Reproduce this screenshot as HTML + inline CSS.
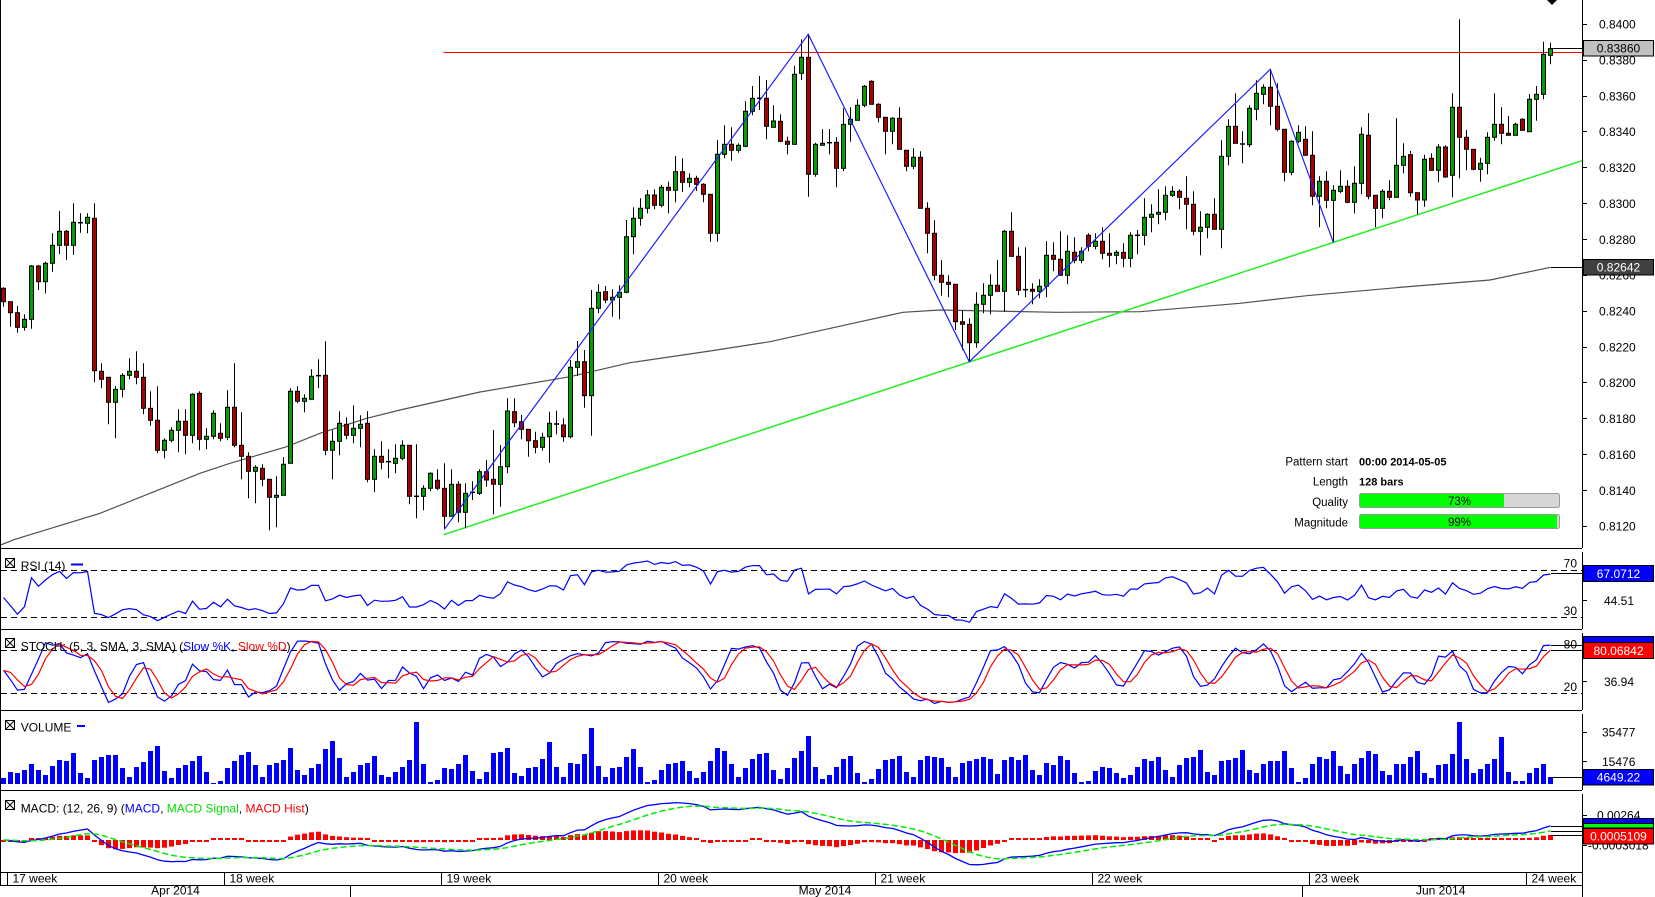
<!DOCTYPE html>
<html><head><meta charset="utf-8">
<style>
html,body{margin:0;padding:0;background:#fff;}
svg{display:block;font-family:"Liberation Sans",Arial,sans-serif;}
</style></head><body>
<svg width="1655" height="897" viewBox="0 0 1655 897" xmlns="http://www.w3.org/2000/svg">
<defs>
<clipPath id="cP"><rect x="1" y="0" width="1581" height="548"/></clipPath>
<clipPath id="cR"><rect x="1" y="552" width="1581" height="77"/></clipPath>
<clipPath id="cS"><rect x="1" y="633" width="1581" height="77"/></clipPath>
<clipPath id="cM"><rect x="1" y="794" width="1581" height="78"/></clipPath>
</defs>
<rect width="1655" height="897" fill="#fff"/>

<g stroke="#000" stroke-width="1" fill="none">
<line x1="0.5" y1="0" x2="0.5" y2="885"/>
<line x1="1582.5" y1="0" x2="1582.5" y2="548"/>
<line x1="1582.5" y1="552" x2="1582.5" y2="629"/>
<line x1="1582.5" y1="633" x2="1582.5" y2="710"/>
<line x1="1582.5" y1="714" x2="1582.5" y2="790"/>
<line x1="1582.5" y1="794" x2="1582.5" y2="897"/>
<line x1="0" y1="548.5" x2="1582" y2="548.5"/>
<line x1="0" y1="629.5" x2="1582" y2="629.5"/>
<line x1="0" y1="710.5" x2="1582" y2="710.5"/>
<line x1="0" y1="790.5" x2="1582" y2="790.5"/>
<line x1="0" y1="872.5" x2="1582" y2="872.5"/>
<line x1="0" y1="885.5" x2="1582" y2="885.5"/>
<line x1="7.5" y1="872" x2="7.5" y2="885"/>
<line x1="224.5" y1="872" x2="224.5" y2="885"/>
<line x1="441.5" y1="872" x2="441.5" y2="885"/>
<line x1="658.5" y1="872" x2="658.5" y2="885"/>
<line x1="875.5" y1="872" x2="875.5" y2="885"/>
<line x1="1092.5" y1="872" x2="1092.5" y2="885"/>
<line x1="1309.5" y1="872" x2="1309.5" y2="885"/>
<line x1="1526.5" y1="872" x2="1526.5" y2="885"/>
<line x1="350.5" y1="885" x2="350.5" y2="897"/>
<line x1="1302.5" y1="885" x2="1302.5" y2="897"/>
<line x1="1582" y1="24.5" x2="1587" y2="24.5"/>
<line x1="1582" y1="60.5" x2="1587" y2="60.5"/>
<line x1="1582" y1="96.5" x2="1587" y2="96.5"/>
<line x1="1582" y1="131.5" x2="1587" y2="131.5"/>
<line x1="1582" y1="167.5" x2="1587" y2="167.5"/>
<line x1="1582" y1="203.5" x2="1587" y2="203.5"/>
<line x1="1582" y1="239.5" x2="1587" y2="239.5"/>
<line x1="1582" y1="275.5" x2="1587" y2="275.5"/>
<line x1="1582" y1="311.5" x2="1587" y2="311.5"/>
<line x1="1582" y1="347.5" x2="1587" y2="347.5"/>
<line x1="1582" y1="382.5" x2="1587" y2="382.5"/>
<line x1="1582" y1="418.5" x2="1587" y2="418.5"/>
<line x1="1582" y1="454.5" x2="1587" y2="454.5"/>
<line x1="1582" y1="490.5" x2="1587" y2="490.5"/>
<line x1="1582" y1="526.5" x2="1587" y2="526.5"/>
<line x1="1582" y1="600.5" x2="1587" y2="600.5"/>
<line x1="1582" y1="681.5" x2="1587" y2="681.5"/>
<line x1="1582" y1="732.5" x2="1587" y2="732.5"/>
<line x1="1582" y1="761.5" x2="1587" y2="761.5"/>
<line x1="1582" y1="815.5" x2="1587" y2="815.5"/>
<line x1="1582" y1="845.5" x2="1587" y2="845.5"/>
</g>

<g stroke="#000" stroke-width="1" stroke-dasharray="6,4">
<line x1="1" y1="570.5" x2="1582" y2="570.5"/>
<line x1="1" y1="617.5" x2="1582" y2="617.5"/>
<line x1="1" y1="650.5" x2="1582" y2="650.5"/>
<line x1="1" y1="693.5" x2="1582" y2="693.5"/>
</g>

<g clip-path="url(#cP)">
<polyline fill="none" stroke="#505050" stroke-width="1.2" points="0.5,545 15,539.3 100,513.3 150,493.3 200,473.3 230,463.3 286.7,446.7 320,433.3 366.7,418.3 400,410 480,392 570,376.7 630,362.7 710,351 770,341.7 853,323.3 903,312.3 940,310 1056.7,312.3 1140,311.7 1240,303.3 1306.7,295.7 1410,286.5 1490,280 1550.5,267.3"/>
<line x1="443.6" y1="52.5" x2="1582" y2="52.5" stroke="#ff0000" stroke-width="1"/>
<line x1="443.6" y1="534.7" x2="1582" y2="160.7" stroke="#22ee22" stroke-width="1.5"/>
</g>

<g id="dyn"></g>

<g clip-path="url(#cP)">
<polyline fill="none" stroke="#2020ff" stroke-width="1.2" points="444.3,529.3 808.3,34.3 969.3,361.7 1270.3,69.3 1333.3,242.3"/>
</g>

<polygon points="1547,0 1557,0 1552,5" fill="#000"/>

<g stroke="#000" stroke-width="1">
<line x1="1551" y1="48.5" x2="1583" y2="48.5"/>
<line x1="1551" y1="267.5" x2="1583" y2="267.5"/>
<line x1="1551" y1="573.5" x2="1583" y2="573.5"/>
<line x1="1551" y1="645.5" x2="1583" y2="645.5"/>
<line x1="1551" y1="650.5" x2="1583" y2="650.5"/>
<line x1="1551" y1="777.5" x2="1583" y2="777.5"/>
<line x1="1551" y1="826.5" x2="1583" y2="826.5"/>
<line x1="1551" y1="831.5" x2="1583" y2="831.5"/>
<line x1="1551" y1="835.5" x2="1583" y2="835.5"/>
</g>

<g font-size="12" fill="#000">
<text x="1599" y="28.6">0.8400</text>
<text x="1599" y="64.5">0.8380</text>
<text x="1599" y="100.3">0.8360</text>
<text x="1599" y="136.2">0.8340</text>
<text x="1599" y="172">0.8320</text>
<text x="1599" y="207.9">0.8300</text>
<text x="1599" y="243.8">0.8280</text>
<text x="1599" y="279.6">0.8260</text>
<text x="1599" y="315.5">0.8240</text>
<text x="1599" y="351.3">0.8220</text>
<text x="1599" y="387.2">0.8200</text>
<text x="1599" y="423.1">0.8180</text>
<text x="1599" y="458.9">0.8160</text>
<text x="1599" y="494.8">0.8140</text>
<text x="1599" y="530.6">0.8120</text>
<text x="1604" y="605">44.51</text>
<text x="1604" y="686">36.94</text>
<text x="1602" y="736.5">35477</text>
<text x="1602" y="766">15476</text>
<text x="1597" y="819.5">0.00264</text>
<text x="1588" y="849.5">-0.0003018</text>
<text x="1577" y="567.5" text-anchor="end">70</text>
<text x="1577" y="615" text-anchor="end">30</text>
<text x="1577" y="648.5" text-anchor="end">80</text>
<text x="1577" y="691" text-anchor="end">20</text>
<text x="12.5" y="882.7">17 week</text>
<text x="229.5" y="882.7">18 week</text>
<text x="446.5" y="882.7">19 week</text>
<text x="663.5" y="882.7">20 week</text>
<text x="880.5" y="882.7">21 week</text>
<text x="1097.5" y="882.7">22 week</text>
<text x="1314.5" y="882.7">23 week</text>
<text x="1531.5" y="882.7">24 week</text>
<text x="175.5" y="894.5" text-anchor="middle">Apr 2014</text>
<text x="825" y="894.5" text-anchor="middle">May 2014</text>
<text x="1440.7" y="894.5" text-anchor="middle">Jun 2014</text>
</g>

<g stroke="#000" stroke-width="1" font-size="12">
<rect x="1583.5" y="40.5" width="70" height="15.5" fill="#c0c0c0"/>
<rect x="1583.5" y="259.5" width="70" height="15.5" fill="#404040"/>
<rect x="1583.5" y="565.5" width="70" height="16" fill="#0000ff"/>
<rect x="1583.5" y="636.5" width="70" height="6" fill="#0000ff"/>
<rect x="1583.5" y="642.5" width="70" height="16" fill="#ff0000"/>
<rect x="1583.5" y="769.5" width="70" height="15.5" fill="#0000ff"/>
<rect x="1583.5" y="818.5" width="70" height="5" fill="#0000ff"/>
<rect x="1583.5" y="823.5" width="70" height="4.5" fill="#00ff00"/>
<rect x="1583.5" y="828.5" width="70" height="15.5" fill="#ff0000"/>
</g>
<g font-size="12" text-anchor="middle">
<text x="1618.5" y="52.6" fill="#000">0.83860</text>
<text x="1618.5" y="271.7" fill="#fff">0.82642</text>
<text x="1618.5" y="577.8" fill="#fff">67.0712</text>
<text x="1618.5" y="654.8" fill="#fff">80.06842</text>
<text x="1618.5" y="781.5" fill="#fff">4649.22</text>
<text x="1618.5" y="840.5" fill="#fff">0.0005109</text>
</g>

<g stroke="#000" stroke-width="1" fill="#fff">
<rect x="5.5" y="558.5" width="9" height="9"/>
<path d="M5.5 558.5 L14.5 567.5 M14.5 558.5 L5.5 567.5" fill="none"/>
<rect x="5.5" y="638.5" width="9" height="9"/>
<path d="M5.5 638.5 L14.5 647.5 M14.5 638.5 L5.5 647.5" fill="none"/>
<rect x="5.5" y="720.5" width="9" height="9"/>
<path d="M5.5 720.5 L14.5 729.5 M14.5 720.5 L5.5 729.5" fill="none"/>
<rect x="5.5" y="800.5" width="9" height="9"/>
<path d="M5.5 800.5 L14.5 809.5 M14.5 800.5 L5.5 809.5" fill="none"/>
</g>
<rect x="71" y="563.5" width="12" height="2" fill="#0000ff"/>
<rect x="77" y="725" width="8" height="2" fill="#0000ff"/>
<g font-size="12" fill="#000">
<text x="20.7" y="570">RSI (14)</text>
<text x="20.7" y="650.7">STOCH: (5, 3, SMA, 3, SMA) (<tspan fill="#0000ff">Slow %K</tspan>, <tspan fill="#ff0000">Slow %D</tspan>)</text>
<text x="20.7" y="731.7">VOLUME</text>
<text x="20.7" y="812.3">MACD: (12, 26, 9) (<tspan fill="#0000ff">MACD</tspan>, <tspan fill="#00dd00">MACD Signal</tspan>, <tspan fill="#ff0000">MACD Hist</tspan>)</text>
</g>

<g font-size="11.5" fill="#000">
<text x="1348" y="465.7" text-anchor="end">Pattern start</text>
<text x="1348" y="485.7" text-anchor="end">Length</text>
<text x="1348" y="506" text-anchor="end">Quality</text>
<text x="1348" y="526.7" text-anchor="end">Magnitude</text>
<text x="1359" y="465.7" font-weight="bold" font-size="11">00:00 2014-05-05</text>
<text x="1359" y="485.7" font-weight="bold" font-size="11">128 bars</text>
</g>
<rect x="1359.5" y="493.5" width="200" height="14" rx="2" fill="#d6d6d6" stroke="#9a9a9a"/>
<rect x="1360" y="494" width="144" height="13" fill="#00ff00"/>
<rect x="1359.5" y="514.5" width="200" height="14" rx="2" fill="#d6d6d6" stroke="#9a9a9a"/>
<rect x="1360" y="515" width="197" height="13" fill="#00ff00"/>
<g font-size="11.5" fill="#000" text-anchor="middle">
<text x="1459.5" y="505">73%</text>
<text x="1459.5" y="526">99%</text>
</g>
</svg>
<script>
(function(){
var D=[[288.3,287.3,306.7,301.7],[301.7,301.7,326.7,312.7],[312.7,306,332.7,327.3],[327.3,314.3,330.7,319.3],[319.3,265,328.7,266],[266,265,290,281.7],[281.7,261.7,293.3,263.3],[263.3,233.3,271.7,245.3],[245.3,211,254,231.3],[231.3,230,260,245.3],
[245.3,203.3,255,222.3],[222.7,213.3,232.7,222.7],[223.3,213.3,233.3,217.3],[218.3,203.3,382.3,370.7],[371.3,363.3,388.3,379.3],[377.3,377.3,424.3,402.3],[402.3,386,438.3,389.3],[389.3,373.3,397.3,375.3],[375.3,358.3,379.3,371.3],[371.3,351.3,384.3,377.3],
[377.3,363.3,414.3,408.3],[408.3,391.3,425.7,420.3],[420.3,386.3,453.3,450.3],[450.3,438.3,458.3,440.3],[440.3,427.3,442.3,430.3],[430.3,409.3,452.3,421.3],[421.3,409.3,454.3,435.3],[435.3,393.3,443.3,394.3],[393.3,391.3,450.3,439.3],[439.3,428.3,449.3,436.3],
[436.3,410.3,439.3,413.3],[433.3,423.3,441.3,438.3],[437.3,390.3,440.3,407.3],[407.3,363.3,447.3,445.3],[445.3,412.3,479.3,456.3],[456.3,452.3,498.3,471.3],[471.3,465.3,503.3,467.3],[468.3,464.3,486.3,479.3],[479.3,479.3,530.3,497.3],[497.3,476.3,527.3,495.3],
[495.3,457.3,495.3,464.3],[463.3,388.3,463.3,391.3],[391.3,386.3,403.3,401.3],[401.3,394.3,412.3,398.3],[399.3,369.3,399.3,376.3],[375.7,359.3,388.3,375.7],[375.3,341.3,455.3,450.3],[450.3,430.3,479.3,441.3],[441.3,411.3,455.3,423.3],[424.3,417.3,439.3,435.3],
[435.3,405.3,443.3,428.3],[428.3,415.3,447.3,424.3],[423.3,411.3,482.3,479.3],[479.3,449.3,492.3,456.3],[456.3,441.3,469.3,462.3],[461.7,449.3,478.3,461.7],[463.3,444.3,473.3,458.3],[458.3,440.3,460.3,445.3],[445.3,445.3,504.3,496.3],[496.3,444.3,518.3,496.3],
[496.3,485.3,510.3,488.3],[488.3,472.3,491.3,473.3],[480.3,469.3,490.3,488.3],[488.3,463.3,529.3,516.3],[516.3,469.3,516.3,484.3],[484.3,481.3,522.3,512.3],[512.3,483.3,528.3,493.3],[493.3,481.3,500,492.3],[493.3,469.3,495,471.7],[471.7,460,486.7,480],
[479.3,430,514.3,484.3],[484.3,445,506.7,466.7],[466.7,398.3,473.3,411],[411.7,398.3,427.3,422.7],[421.7,415,439.3,429.3],[429.3,429.3,456.7,440.7],[440.7,431.7,453.3,447.3],[447.3,432.7,450.7,437.3],[436.7,411.7,462.7,423.3],[424,410.7,434.3,424],
[425,418.3,441.7,436.7],[436.7,360,438.3,367.3],[367.3,341,376,361.7],[361.7,350,407.7,395.7],[395.7,290,435.7,308.3],[308.3,284.3,313.3,292.3],[291.7,286,303.3,300],[300,289.3,316.7,297.3],[297.3,285.3,319.3,292.3],[292.3,220,293.3,236.7],
[236.7,207.3,254.3,218.3],[218.3,198.3,225.7,208.3],[208.3,190,213.3,195],[195,189.3,209.3,205.3],[205.3,185,207.3,187.3],[187.3,181.7,213.3,190.3],[190.3,156,202.3,171.7],[171.7,158.3,192,182.3],[182.3,173.3,187.3,178.3],[178.3,175.7,191,184.3],
[184.3,183.3,202.3,194.3],[194.3,194.3,241.7,233.3],[233.3,140,241.7,154.3],[154.3,125.3,158.3,144.3],[144.3,127.3,160.7,150.3],[150.3,143.3,152.7,145.3],[146.3,101.3,147.3,111.3],[111.3,86,115.3,98.3],[98.3,76,110,98.3],[98.3,80,139.3,126.3],
[127.3,105.3,127.3,121],[121.3,114.3,142.3,141.3],[141.3,136.7,154.3,144.3],[144.3,65.7,144.3,74.3],[73.3,39.3,80,57.3],[57.3,34,196.7,174.3],[174.3,142.7,176.7,144.3],[145.3,129.3,145.3,143.3],[142.7,129,154.3,142.7],[142.3,137.3,187.3,168.3],
[168.3,108.3,171.3,124.3],[124.3,107.3,141.7,119.3],[120.3,99.3,120.3,105.3],[105.3,85,107.3,86.3],[81.3,80.3,104.3,104.3],[104.3,103.3,122.3,117.3],[117.3,117.3,154.3,131.3],[131.3,117.3,144.3,118.3],[118.3,107.3,149.3,149.3],[150.3,150.3,171.3,166.3],
[166.3,148.3,169.3,157.3],[157.3,151.3,208.3,208.3],[208.3,202.3,253.3,233.3],[233.3,220.3,280.3,275.3],[275.3,260,295.7,282.3],[282.3,275.3,297.3,284.3],[284.3,284,330,321.7],[321.7,310.7,350,324.3],[324.3,318.3,361.7,342.7],[342.7,292.3,347.7,304.3],
[304.3,283.3,313.3,295.3],[295.3,274.3,314.3,285.3],[285.3,260,291.3,291.3],[291.3,230,311.7,231.3],[231.3,212.3,256.3,256.3],[256.3,247.3,295.3,290.3],[289.7,247.3,297.3,289.7],[289.3,283.3,304.3,291.3],[291.3,279.3,298.3,286.3],[286.3,241.3,297.3,255.3],
[255.3,242.3,271.3,259.3],[259.3,231.3,275.3,275.3],[275.3,235.3,284.3,251.3],[252.3,237.3,263.3,260.3],[260.3,247.3,263.3,251.3],[235.3,233.3,251.3,246.3],[246.3,233.3,249.3,241.3],[241.3,227.3,259.3,253.3],[253.3,233.3,267.3,255.3],[255.3,250.3,264.3,252.3],
[252.3,243.3,267.3,258.3],[258.3,232.3,267.3,235.3],[235.3,230,254.3,235.3],[235.3,198.3,245.3,217.3],[217.3,204.3,232.3,214.3],[214.3,189.3,224.3,212.3],[212.3,186.3,220.3,195.3],[195.3,186.3,197,191.3],[191.3,189.3,209.3,197.3],[198.3,176.3,229.3,204.3],
[204.3,191.3,235.3,231.3],[231.3,211.3,255.3,227.3],[227.3,213.3,238.3,214.3],[214.3,198.3,229.3,229.3],[229.3,140.3,248.3,156.3],[156.3,119.3,165.3,126.3],[126.3,93.3,143.3,143.3],[144,131.3,163.3,144],[144.7,105.3,147.3,108.3],[109.3,80.3,120.3,93.3],
[94.3,84.3,104.3,87.3],[87.3,69.3,125.3,106.3],[106.3,83.3,131.3,129.3],[129.3,129.3,181.3,172.3],[172.3,140.3,175.3,141.3],[141.3,125.3,143.3,132.3],[139.3,126.3,155.3,155.3],[155.3,131.3,205.3,196.3],[196.3,176.3,227.3,181.3],[181.3,171.3,208.3,200.3],
[200.3,185.3,242.3,190.3],[191.3,170.3,193.3,186.3],[186.3,180.3,203.3,202.3],[202.3,166.3,213.3,183.3],[183.3,127.3,194.3,134.3],[135.3,113.3,199.3,196.3],[195.3,195.3,227.3,208.3],[208.3,189.3,218.3,191.3],[191.3,180.3,200.3,197.3],[197.3,118.3,197.3,165.3],
[165.3,143.3,173.3,156.3],[154.7,151,196.7,192.7],[192.7,192.7,214.3,200],[200,154.7,206.7,159.3],[158.3,153.3,170.3,170.3],[170.3,144.3,182.3,147],[147,145.3,177.7,177],[175.3,93.3,197.3,107.3],[107.3,19.3,178.3,137.3],[137.3,130,170.3,149.3],
[149.3,149.3,170.3,169.3],[169.3,157.7,181.7,163.3],[163.3,132.3,174.3,137.3],[137.3,93.3,140.7,124.3],[124.3,107.3,144.3,133.3],[133.3,116,135.3,135.3],[135.3,122.7,135.3,124.3],[119.3,118.3,130.3,130.3],[131.7,94.3,131.7,99.3],[99.3,86,120.7,94.3],
[94.3,41.7,99.3,54.3],[55.3,42.7,64.3,48.7]];
var V=[6,12,11,14,20,14,9,18,24,23,31,11,6,24,27,29,29,16,7,17,22,33,38,13,6,16,19,23,28,12,1,3,16,23,29,32,19,7,19,21,24,36,14,9,16,20,35,43,26,7,12,19,21,28,9,7,12,17,24,62,20,2,4,16,15,20,29,13,5,12,31,32,36,11,8,16,17,25,42,17,7,21,20,30,56,18,7,16,17,27,35,17,2,4,14,20,21,23,13,6,12,23,36,33,20,7,16,25,30,31,14,5,16,26,33,48,17,5,9,17,25,28,11,2,5,15,24,25,28,12,7,24,28,27,26,17,7,21,23,25,27,25,10,24,27,24,29,14,9,21,19,28,24,11,2,3,13,17,16,11,6,9,17,25,23,27,14,7,19,26,27,34,12,9,23,24,26,34,14,11,20,23,23,33,16,2,6,20,27,25,33,18,10,20,26,33,30,13,9,20,20,27,33,11,6,19,20,30,62,25,11,15,20,25,47,12,3,3,11,16,20,7];
var N=D.length,W=60,i,j;
function X(i){return 3.5+7*i;}
function f(v){return Math.round(v*10)/10;}
var cl=[],hi=[],lo=[];
for(i=0;i<W;i++){var c0=298+5*Math.sin(i*1.7);cl.push(-c0);hi.push(-(c0-4));lo.push(-(c0+4));}
for(i=0;i<N;i++){cl.push(-D[i][3]);hi.push(-D[i][1]);lo.push(-D[i][2]);}
var T=cl.length;
var rs=[],ag=0,al=0,n=14;
for(i=1;i<T;i++){var ch=cl[i]-cl[i-1],g=ch>0?ch:0,l=ch<0?-ch:0;
 if(i<=n){ag+=g/n;al+=l/n;}else{ag=(ag*(n-1)+g)/n;al=(al*(n-1)+l)/n;}
 rs[i]=al==0?100:100-100/(1+ag/al);}
var rk=[],k=[],d=[];
for(i=0;i<T;i++){var hh=-1e9,ll=1e9;for(j=Math.max(0,i-4);j<=i;j++){if(hi[j]>hh)hh=hi[j];if(lo[j]<ll)ll=lo[j];}
 rk[i]=hh>ll?(cl[i]-ll)/(hh-ll)*100:50;}
for(i=0;i<T;i++){var a=0,c2=0;for(j=Math.max(0,i-2);j<=i;j++){a+=rk[j];c2++;}k[i]=a/c2;}
for(i=0;i<T;i++){var a2=0,c3=0;for(j=Math.max(0,i-2);j<=i;j++){a2+=k[j];c3++;}d[i]=a2/c3;}
function ema(arr,p){var r=[],m=2/(p+1);r[0]=arr[0];for(var q=1;q<arr.length;q++)r[q]=arr[q]*m+r[q-1]*(1-m);return r;}
var e12=ema(cl,12),e26=ema(cl,26),mc=[];for(i=0;i<T;i++)mc[i]=e12[i]-e26[i];
var sg=ema(mc,9);
function yR(v){return 570.7+(70-v)*1.165;}
function yS(v){return 693.3-(v-20)*0.7167;}
function yM(v){return 840-v*0.558;}
function pl(arr,fn,col,w,extra){var p=[];for(i=0;i<N;i++){var v=arr[i+W];if(v===undefined)continue;p.push(X(i)+','+f(fn(v)));}
 return '<polyline points="'+p.join(' ')+'" fill="none" stroke="'+col+'" stroke-width="'+w+'" '+(extra||'')+'/>';}
var s='';
for(i=0;i<N;i++){var h=V[i];s+='<rect x="'+(X(i)-2.5)+'" y="'+(784-h)+'" width="5" height="'+h+'" fill="#0000ff"/>';}
s+='<g clip-path="url(#cM)">';
for(i=0;i<N;i++){var hv=(mc[i+W]-sg[i+W])*0.558,ah=Math.abs(hv);if(ah<2)ah=2;var yy=hv>=0?840-ah:840;
 s+='<rect x="'+(X(i)-2.5)+'" y="'+f(yy)+'" width="5" height="'+f(ah)+'" fill="#ff0000"/>';}
s+=pl(mc,yM,'#0000ff',1.3)+pl(sg,yM,'#00ee00',1.5,'stroke-dasharray="6,3"')+'</g>';
s+='<g clip-path="url(#cR)">'+pl(rs,yR,'#0000ff',1.2)+'</g>';
s+='<g clip-path="url(#cS)">'+pl(k,yS,'#0000ff',1.2)+pl(d,yS,'#ff0000',1.2)+'</g>';
s+='<g clip-path="url(#cP)">';
for(i=0;i<N;i++){var q=D[i],o=q[0],H=q[1],L=q[2],C=q[3],x=X(i);
 s+='<line x1="'+x+'" y1="'+H+'" x2="'+x+'" y2="'+L+'" stroke="#000" stroke-width="1"/>';
 var tp=Math.min(o,C),bt=Math.max(o,C);
 if(bt-tp<1.5){s+='<line x1="'+(x-2.5)+'" y1="'+tp+'" x2="'+(x+2.5)+'" y2="'+tp+'" stroke="#000" stroke-width="1.5"/>';}
 else s+='<rect x="'+(x-2)+'" y="'+tp+'" width="4" height="'+f(bt-tp)+'" fill="'+(C<o?'#00a000':'#aa0000')+'" stroke="#000" stroke-width="1"/>';}
s+='</g>';
var tmp=document.createElement('div');
tmp.innerHTML='<svg xmlns="http://www.w3.org/2000/svg">'+s+'</svg>';
var src=tmp.firstChild,dst=document.getElementById('dyn');
while(src.firstChild)dst.appendChild(src.firstChild);
})();
</script>
</body></html>
